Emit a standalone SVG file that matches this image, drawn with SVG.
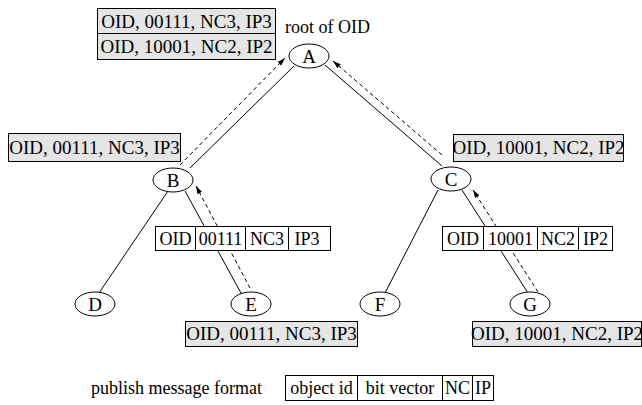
<svg xmlns="http://www.w3.org/2000/svg" width="642" height="405" viewBox="0 0 642 405" font-family="'Liberation Serif', 'Times New Roman', serif">
<defs>
<marker id="arr" viewBox="0 0 10 10" refX="10" refY="5" markerWidth="8" markerHeight="8" markerUnits="userSpaceOnUse" orient="auto"><path d="M0,1.8 L10,5 L0,8.2 z" fill="#000"/></marker>
</defs>
<style>
text{font-family:"Liberation Serif","Times New Roman",serif;font-size:19px;fill:#000}
.c{text-anchor:middle}
.s{font-size:18px}
.node ellipse{fill:#fff;stroke:#000;stroke-width:1}
.edge{stroke:#000;stroke-width:1;fill:none}
.dash{stroke:#000;stroke-width:1;stroke-dasharray:4 3;fill:none;marker-end:url(#arr)}
.gray{fill:#e5e5e5;stroke:#000;stroke-width:1}
.cell{fill:#fff;stroke:#000;stroke-width:1}
</style>
<rect width="642" height="405" fill="#fff"/>

<g id="connectors">
<line class="edge" x1="190" y1="168" x2="294" y2="66"/>
<path class="dash" d="M180,165 L285,58"/>
<line class="edge" x1="442" y1="166" x2="325" y2="65"/>
<path class="dash" d="M442,155 L333,61"/>
<line class="edge" x1="168" y1="191" x2="99" y2="293"/>
<line class="edge" x1="185" y1="191" x2="241" y2="293"/>
<path class="dash" d="M250,288 L196,186"/>
<line class="edge" x1="438" y1="190" x2="385" y2="293"/>
<line class="edge" x1="462" y1="190" x2="528" y2="293"/>
<path class="dash" d="M538,292 L473,190"/>
</g>

<g id="table-root">
<rect class="gray" x="97.5" y="8.5" width="178" height="25"/>
<rect class="gray" x="97.5" y="33.5" width="178" height="26"/>
<text class="c" x="186.5" y="28">OID, 00111, NC3, IP3</text>
<text class="c" x="186.5" y="53">OID, 10001, NC2, IP2</text>
</g>
<text id="root-label" class="s" x="285" y="33">root of OID</text>

<g id="node-A" class="node"><ellipse cx="309" cy="56" rx="20" ry="12"/><text class="c" x="309" y="62.5">A</text></g>
<g id="node-B" class="node"><ellipse cx="173" cy="180" rx="20" ry="12"/><text class="c" x="173" y="186.5">B</text></g>
<g id="node-C" class="node"><ellipse cx="451" cy="179" rx="20" ry="12"/><text class="c" x="451" y="185.5">C</text></g>
<g id="node-D" class="node"><ellipse cx="95" cy="304" rx="20" ry="12"/><text class="c" x="95" y="310.5">D</text></g>
<g id="node-E" class="node"><ellipse cx="251" cy="304" rx="20" ry="12"/><text class="c" x="251" y="310.5">E</text></g>
<g id="node-F" class="node"><ellipse cx="380" cy="304" rx="20" ry="12"/><text class="c" x="380" y="310.5">F</text></g>
<g id="node-G" class="node"><ellipse cx="530" cy="304" rx="20" ry="12"/><text class="c" x="530" y="310.5">G</text></g>

<g id="table-B">
<rect class="gray" x="8.5" y="133.5" width="172" height="28"/>
<text class="c" x="94.5" y="154">OID, 00111, NC3, IP3</text>
</g>
<g id="table-C">
<rect class="gray" x="453.5" y="134.5" width="170" height="27"/>
<text class="c" x="538.5" y="154">OID, 10001, NC2, IP2</text>
</g>
<g id="table-E">
<rect class="gray" x="185.5" y="321.5" width="172" height="25"/>
<text class="c" x="271.5" y="340">OID, 00111, NC3, IP3</text>
</g>
<g id="table-G">
<rect class="gray" x="472.5" y="321.5" width="169" height="25"/>
<text class="c" x="557" y="340">OID, 10001, NC2, IP2</text>
</g>

<g id="msg-E">
<rect class="cell" x="155.5" y="226.5" width="40" height="24"/>
<rect class="cell" x="195.5" y="226.5" width="50" height="24"/>
<rect class="cell" x="245.5" y="226.5" width="43" height="24"/>
<rect class="cell" x="288.5" y="226.5" width="42" height="24"/>
<text class="c s" x="175.5" y="245">OID</text>
<text class="c s" x="220.5" y="245">00111</text>
<text class="c s" x="267" y="245">NC3</text>
<text class="c s" x="307" y="245">IP3</text>
</g>
<g id="msg-G">
<rect class="cell" x="442.5" y="226.5" width="41" height="24"/>
<rect class="cell" x="483.5" y="226.5" width="54" height="24"/>
<rect class="cell" x="537.5" y="226.5" width="41" height="24"/>
<rect class="cell" x="578.5" y="226.5" width="34" height="24"/>
<text class="c s" x="463" y="245">OID</text>
<text class="c s" x="510.5" y="245">10001</text>
<text class="c s" x="558" y="245">NC2</text>
<text class="c s" x="595.5" y="245">IP2</text>
</g>

<g id="legend">
<text class="s" x="91" y="394">publish message format</text>
<rect class="cell" x="285.5" y="375.5" width="72" height="25"/>
<rect class="cell" x="357.5" y="375.5" width="85" height="25"/>
<rect class="cell" x="442.5" y="375.5" width="30" height="25"/>
<rect class="cell" x="472.5" y="375.5" width="21" height="25"/>
<text class="c s" x="321.5" y="394">object id</text>
<text class="c s" x="400" y="394">bit vector</text>
<text class="c s" x="457.5" y="394">NC</text>
<text class="c s" x="483" y="394">IP</text>
</g>
</svg>
